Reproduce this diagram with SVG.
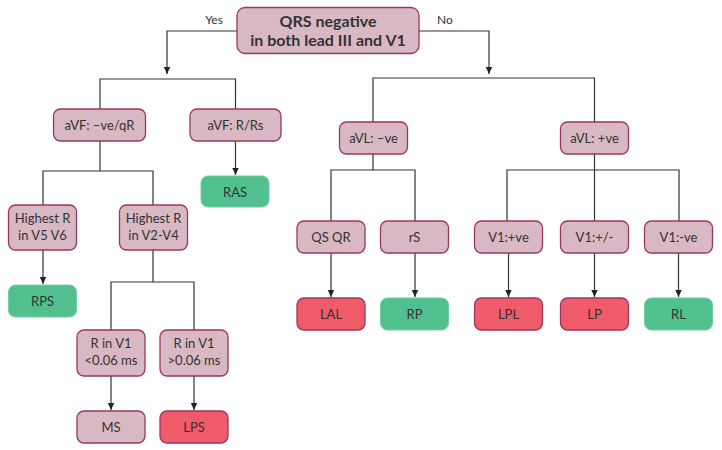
<svg xmlns="http://www.w3.org/2000/svg" width="722" height="450" viewBox="0 0 722 450">
<defs>
<marker id="arr" markerWidth="8" markerHeight="8" refX="7" refY="4" orient="auto" markerUnits="userSpaceOnUse">
<path d="M0,0.8 L7,4 L0,7.2 Z" fill="#222"/>
</marker>
<style>
.n{fill:#d8b9c3;stroke:#9b3566;stroke-width:1.3}
.g{fill:#52c08e;stroke:#6fcf9f;stroke-width:1}
.r{fill:#f05b69;stroke:#9b3566;stroke-width:1.3}
.t{font-family:Lato,"Open Sans","Liberation Sans",sans-serif;font-size:13px;fill:#333;text-anchor:middle}
.h{font-family:Lato,"Open Sans","Liberation Sans",sans-serif;font-size:16px;font-weight:bold;fill:#333;text-anchor:middle}
.l{fill:none;stroke:#333;stroke-width:1.2}
</style>
</defs>
<rect width="722" height="450" fill="#fff"/>
<g id="connectors">
<path class="l" d="M237,31 H167 V74" marker-end="url(#arr)"/>
<path class="l" d="M419,31 H489 V74" marker-end="url(#arr)"/>
<path class="l" d="M100,109 V79 H235.5 V109"/>
<path class="l" d="M373,122 V78 H594.5 V122"/>
<path class="l" d="M100,141 V171 H43 V205 M100,171 H153 V205"/>
<path class="l" d="M235.5,141 V175" marker-end="url(#arr)"/>
<path class="l" d="M43,250 V284" marker-end="url(#arr)"/>
<path class="l" d="M153,250 V282 H111 V330 M153,282 H194 V330"/>
<path class="l" d="M111,376 V410" marker-end="url(#arr)"/>
<path class="l" d="M194,376 V410" marker-end="url(#arr)"/>
<path class="l" d="M373,154 V170 H331 V221 M373,170 H415 V221"/>
<path class="l" d="M594.5,154 V221 M507,221 V170 H679 V221"/>
<path class="l" d="M331,253 V297" marker-end="url(#arr)"/>
<path class="l" d="M415,253 V297" marker-end="url(#arr)"/>
<path class="l" d="M508.5,253 V297" marker-end="url(#arr)"/>
<path class="l" d="M594.5,253 V297" marker-end="url(#arr)"/>
<path class="l" d="M678.5,253 V297" marker-end="url(#arr)"/>
</g>
<text class="t" x="214" y="24" style="font-size:12px">Yes</text>
<text class="t" x="445" y="24" style="font-size:12px">No</text>
<g id="root"><rect class="n" x="237" y="7.5" width="182" height="46" rx="8"/><text class="h" x="328" y="27">QRS negative</text><text class="h" x="328" y="46">in both lead III and V1</text></g>
<g id="avf1"><rect class="n" x="53.5" y="109" width="92" height="32" rx="7"/><text class="t" x="99.5" y="130">aVF: –ve/qR</text></g>
<g id="avf2"><rect class="n" x="190" y="109" width="91" height="32" rx="7"/><text class="t" x="235.5" y="130">aVF: R/Rs</text></g>
<g id="ras"><rect class="g" x="201" y="176" width="68" height="31" rx="7"/><text class="t" x="235" y="196.5">RAS</text></g>
<g id="hr56"><rect class="n" x="8.5" y="205" width="68" height="45" rx="7"/><text class="t" x="42.5" y="223">Highest R</text><text class="t" x="42.5" y="240">in V5 V6</text></g>
<g id="hr24"><rect class="n" x="119.5" y="205" width="68" height="45" rx="7"/><text class="t" x="153.5" y="223">Highest R</text><text class="t" x="153.5" y="240">in V2-V4</text></g>
<g id="rps"><rect class="g" x="8.5" y="285" width="68" height="32" rx="7"/><text class="t" x="42.5" y="306">RPS</text></g>
<g id="rv1a"><rect class="n" x="77" y="330" width="68" height="46" rx="7"/><text class="t" x="111" y="348">R in V1</text><text class="t" x="111" y="365">&lt;0.06 ms</text></g>
<g id="rv1b"><rect class="n" x="160" y="330" width="68" height="46" rx="7"/><text class="t" x="194" y="348">R in V1</text><text class="t" x="194" y="365">&gt;0.06 ms</text></g>
<g id="ms"><rect class="n" x="77" y="411" width="68" height="32" rx="7"/><text class="t" x="111" y="432">MS</text></g>
<g id="lps"><rect class="r" x="160" y="411" width="68" height="32" rx="7"/><text class="t" x="194" y="432">LPS</text></g>
<g id="avlneg"><rect class="n" x="339.5" y="122" width="68" height="32" rx="7"/><text class="t" x="373.5" y="143">aVL: –ve</text></g>
<g id="avlpos"><rect class="n" x="560.5" y="122" width="68" height="32" rx="7"/><text class="t" x="594.5" y="143">aVL: +ve</text></g>
<g id="qsqr"><rect class="n" x="297" y="221" width="68" height="32" rx="7"/><text class="t" x="331" y="242">QS QR</text></g>
<g id="rs"><rect class="n" x="380.5" y="221" width="68" height="32" rx="7"/><text class="t" x="414.5" y="242">rS</text></g>
<g id="v1pos"><rect class="n" x="474.5" y="221" width="68" height="32" rx="7"/><text class="t" x="508.5" y="242">V1:+ve</text></g>
<g id="v1pm"><rect class="n" x="560.5" y="221" width="68" height="32" rx="7"/><text class="t" x="594.5" y="242">V1:+/-</text></g>
<g id="v1neg"><rect class="n" x="644.5" y="221" width="68" height="32" rx="7"/><text class="t" x="678.5" y="242">V1:-ve</text></g>
<g id="lal"><rect class="r" x="297" y="298" width="68" height="32" rx="7"/><text class="t" x="331" y="319">LAL</text></g>
<g id="rp"><rect class="g" x="380.5" y="298" width="68" height="32" rx="7"/><text class="t" x="414.5" y="319">RP</text></g>
<g id="lpl"><rect class="r" x="474.5" y="298" width="68" height="32" rx="7"/><text class="t" x="508.5" y="319">LPL</text></g>
<g id="lp"><rect class="r" x="560.5" y="298" width="68" height="32" rx="7"/><text class="t" x="594.5" y="319">LP</text></g>
<g id="rl"><rect class="g" x="644.5" y="298" width="68" height="32" rx="7"/><text class="t" x="678.5" y="319">RL</text></g>
</svg>
